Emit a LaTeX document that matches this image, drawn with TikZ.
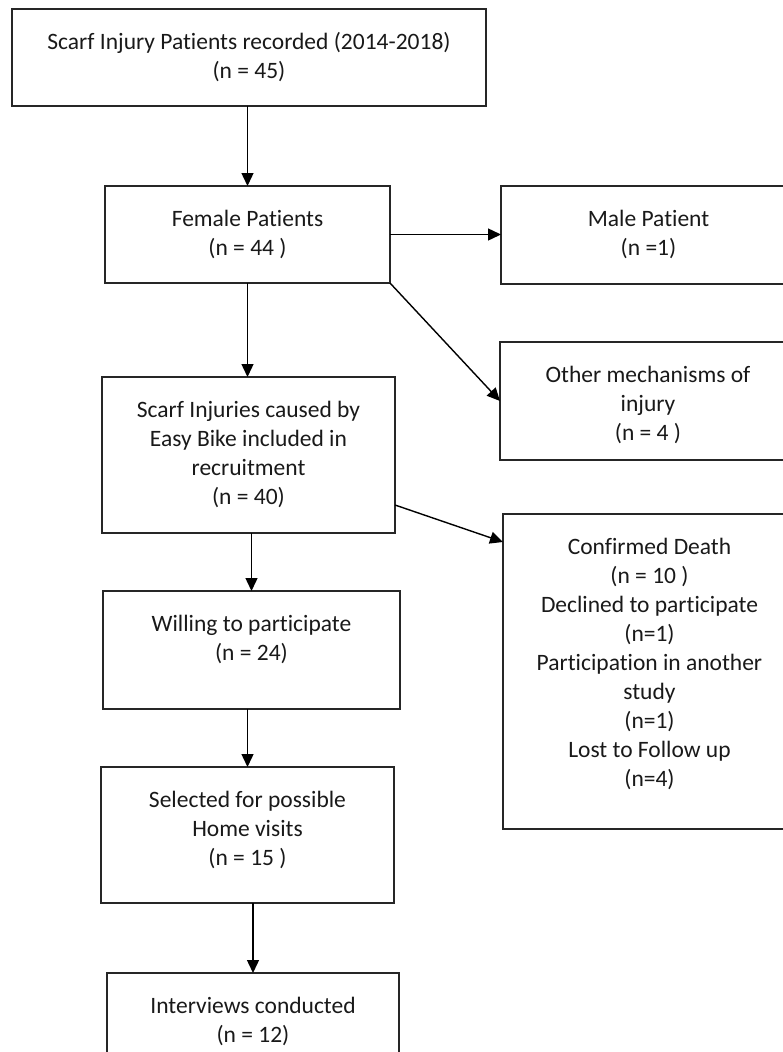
\documentclass[tikz,border=0pt]{standalone}
\usepackage{fontspec}
\setmainfont{Carlito}[Ligatures=CommonOff]
\usetikzlibrary{arrows.meta,calc}
\begin{document}
\begin{tikzpicture}[x=1pt,y=-1pt,
  box/.style={draw=black!85, line width=1.6pt, inner sep=0pt, outer sep=0pt, anchor=north west},
  txt/.style={anchor=north, inner sep=0pt, align=center, yshift=-19.5pt, text=black!90, font=\fontsize{23.5}{29}\selectfont},
  arr/.style={line width=1.4pt, -{Triangle[length=13pt,width=12pt]}}]
\useasboundingbox (0,0) rectangle (783,1052);
\clip (0,0) rectangle (783,1052);
\node[box, minimum width=474pt, minimum height=97pt,
  label={[txt]north:{\strut Scarf Injury Patients recorded (2014-2018)\\(n = 45)}}] (n1) at (12,9) {};
\node[box, minimum width=285pt, minimum height=97pt,
  label={[txt]north:{\strut Female Patients\\(n = 44 )}}] (n2) at (105,186) {};
\node[box, minimum width=295pt, minimum height=98pt,
  label={[txt]north:{\strut Male Patient\\(n =1)}}] (n3) at (501,186) {};
\node[box, minimum width=296pt, minimum height=118pt,
  label={[txt]north:{\strut Other mechanisms of\\injury\\(n = 4 )}}] (n4) at (500,342) {};
\node[box, minimum width=293pt, minimum height=156pt,
  label={[txt]north:{\strut Scarf Injuries caused by\\Easy Bike included in\\recruitment\\(n = 40)}}] (n5) at (102,377) {};
\node[box, minimum width=293pt, minimum height=315pt,
  label={[txt]north:{\strut Confirmed Death\\(n = 10 )\\Declined to participate\\(n=1)\\Participation in another\\study\\(n=1)\\Lost to Follow up\\(n=4)}}] (n6) at (503,514) {};
\node[box, minimum width=297pt, minimum height=118pt,
  label={[txt]north:{\strut Willing to participate\\(n = 24)}}] (n7) at (103,591) {};
\node[box, minimum width=293pt, minimum height=136pt,
  label={[txt]north:{\strut Selected for possible\\Home visits\\(n = 15 )}}] (n8) at (101,767) {};
\node[box, minimum width=292pt, minimum height=127pt,
  label={[txt]north:{\strut Interviews conducted\\(n = 12)}}] (n9) at (107,973) {};
\draw[arr] (n1.south -| n2.north) -- (n2.north);
\draw[arr] (n2.east) -- (n2.east -| n3.west);
\draw[arr] (n2.south east) -- (n4.west);
\draw[arr] (n2.south) -- (n2.south |- n5.north);
\draw[arr] ($(n5.south east)+(0,-28)$) -- ($(n6.north west)+(0,28)$);
\draw[arr] (n5.south -| n7.north) -- (n7.north);
\draw[arr] (n7.south -| n8.north) -- (n8.north);
\draw[arr] (n8.south -| n9.north) -- (n9.north);
\end{tikzpicture}
\end{document}
